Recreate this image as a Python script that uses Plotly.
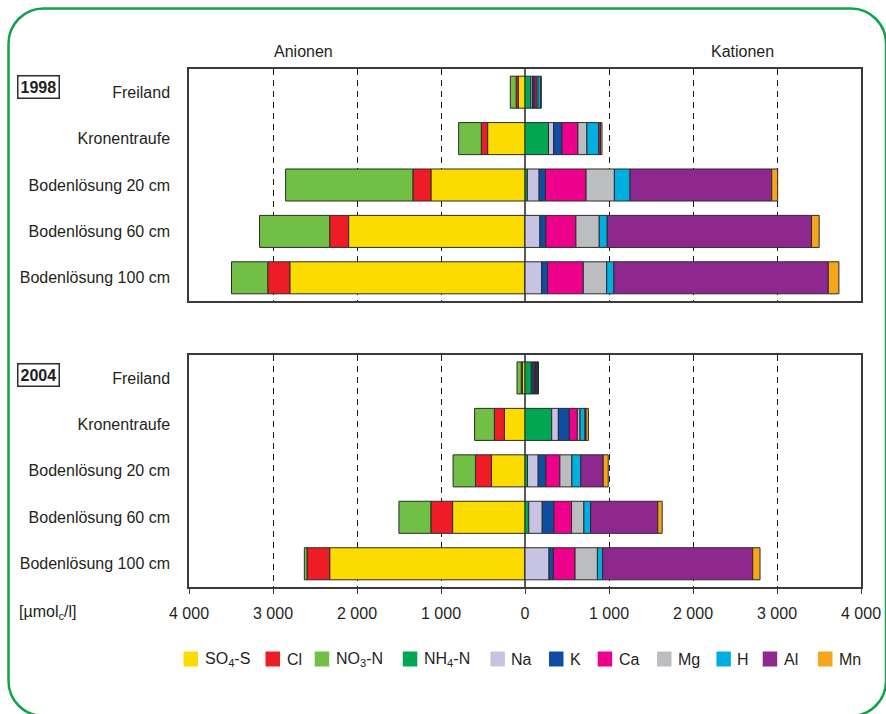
import plotly.graph_objects as go

# Sites (top to bottom)
sites = ["Freiland", "Kronentraufe", "Bodenlösung 20 cm",
         "Bodenlösung 60 cm", "Bodenlösung 100 cm"]

# Ion names, legend labels and colours (anions first, then cations)
ions = ["SO4-S", "Cl", "NO3-N", "NH4-N", "Na", "K", "Ca", "Mg", "H", "Al", "Mn"]
ion_labels = ["SO<sub>4</sub>-S", "Cl", "NO<sub>3</sub>-N", "NH<sub>4</sub>-N",
              "Na", "K", "Ca", "Mg", "H", "Al", "Mn"]
ion_colors = ["#FCDC00", "#EE1D25", "#72BF45", "#00A651", "#C6C4E2", "#0E4DA2",
              "#EC008C", "#BBBDC0", "#00AEDF", "#8E288F", "#F7A51C"]
anions = ["SO4-S", "Cl", "NO3-N"]

# Concentrations in µmol_c/l, 1998
conc_1998 = {
    "SO4-S": [80, 445, 1120, 2100, 2800],
    "Cl":    [25, 75, 215, 225, 262],
    "NO3-N": [70, 270, 1515, 835, 432],
    "NH4-N": [70, 280, 28, 0, 0],
    "Na":    [20, 60, 140, 178, 198],
    "K":     [20, 100, 75, 71, 71],
    "Ca":    [25, 190, 484, 357, 425],
    "Mg":    [20, 107, 337, 278, 278],
    "H":     [30, 140, 187, 95, 87],
    "Al":    [5, 22, 1686, 2432, 2551],
    "Mn":    [0, 18, 71, 91, 127],
}

# Concentrations in µmol_c/l, 2004
conc_2004 = {
    "SO4-S": [30, 245, 400, 862, 2325],
    "Cl":    [15, 120, 190, 258, 270],
    "NO3-N": [50, 235, 266, 381, 32],
    "NH4-N": [75, 318, 30, 45, 0],
    "Na":    [10, 79, 127, 160, 286],
    "K":     [25, 131, 91, 139, 52],
    "Ca":    [15, 95, 167, 210, 258],
    "Mg":    [10, 32, 143, 147, 266],
    "H":     [15, 60, 107, 79, 63],
    "Al":    [10, 12, 266, 801, 1786],
    "Mn":    [0, 28, 60, 52, 87],
}

years = ["1998", "2004"]
tick_vals = [-4000, -3000, -2000, -1000, 0, 1000, 2000, 3000, 4000]
tick_text = ["4 000", "3 000", "2 000", "1 000", "0", "1 000", "2 000", "3 000", "4 000"]

# ---- page geometry (pixels) ----
W, H = 886, 714
ML, MR, MT, MB = 189, 25, 69, 127
PW, PH = W - ML - MR, H - MT - MB


def px(x):
    return (x - ML) / PW


def py(y):
    return (H - MB - y) / PH


FONT = "Liberation Sans, Arial, sans-serif"
TXT = "#231F20"
EDGE = "#2B2B2B"

fig = go.Figure()

for k, (year, data) in enumerate(zip(years, [conc_1998, conc_2004])):
    ya = "y" if k == 0 else "y2"
    xa = "x" if k == 0 else "x2"
    for ion, color in zip(ions, ion_colors):
        sign = -1 if ion in anions else 1
        fig.add_trace(go.Bar(
            y=sites, x=[sign * v for v in data[ion]],
            orientation="h", name=ion, xaxis=xa, yaxis=ya,
            marker=dict(color=color, line=dict(color=EDGE, width=1)),
            width=0.69, showlegend=False,
            hovertemplate=ion + ": %{customdata}<extra></extra>",
            customdata=data[ion],
        ))

xcommon = dict(
    range=[-4000, 4000], tickvals=tick_vals, ticktext=tick_text,
    showgrid=True, gridcolor="#1A1A1A", gridwidth=1, griddash="6px,5px",
    zeroline=True, zerolinecolor="#5A5A5A", zerolinewidth=1.5,
    showline=True, linecolor="#3A3A3A", linewidth=1.5, mirror=True,
    fixedrange=True, automargin=False,
)
ycommon = dict(
    type="category", categoryorder="array", categoryarray=sites,
    range=[4.5, -0.5], showgrid=False, zeroline=False,
    showline=True, linecolor="#3A3A3A", linewidth=1.5, mirror=True,
    ticks="", ticklabelstandoff=14, automargin=False, fixedrange=True,
    tickfont=dict(family=FONT, size=16, color=TXT),
)

top_dom = [py(301), 1.0]
bot_dom = [0.0, py(354.7)]

fig.update_layout(
    width=W, height=H, autosize=False,
    margin=dict(l=ML, r=MR, t=MT, b=MB, pad=0, autoexpand=False),
    paper_bgcolor="white", plot_bgcolor="white",
    barmode="relative", bargap=0.31,
    font=dict(family=FONT, size=16, color=TXT),
    xaxis=dict(**xcommon, anchor="y", showticklabels=False, ticks=""),
    yaxis=dict(**ycommon, domain=top_dom, anchor="x"),
    xaxis2=dict(**xcommon, anchor="y2", showticklabels=True, ticks="outside",
                ticklen=5, tickcolor="#3A3A3A", tickwidth=1, ticklabelstandoff=6,
                tickfont=dict(family=FONT, size=16, color=TXT)),
    yaxis2=dict(**ycommon, domain=bot_dom, anchor="x2"),
    showlegend=False,
)

annotations = []
# Year boxes
for year, yc in zip(years, [87, 375]):
    annotations.append(dict(
        xref="paper", yref="paper", x=px(38.3), y=py(yc),
        text="<b>%s</b>" % year, showarrow=False,
        font=dict(family=FONT, size=16, color=TXT),
        bordercolor="#2B2B2B", borderwidth=1.5, borderpad=2, bgcolor="white",
        xanchor="center", yanchor="middle",
    ))
# Side headers
for label, xc in [("Anionen", 303), ("Kationen", 742)]:
    annotations.append(dict(
        xref="paper", yref="paper", x=px(xc), y=py(51), text=label,
        showarrow=False, font=dict(family=FONT, size=16, color=TXT),
        xanchor="center", yanchor="middle",
    ))
# Unit label
annotations.append(dict(
    xref="paper", yref="paper", x=px(17), y=py(612),
    text="[µmol<sub>c</sub>/l]", showarrow=False,
    font=dict(family=FONT, size=16, color=TXT),
    xanchor="left", yanchor="middle",
))

shapes = []
# Legend row
leg_x = [183.5, 265.5, 314.7, 402.8, 490.4, 549, 597.7, 657, 716.4, 762.7, 818]
leg_y = 659
for lx, lab, col in zip(leg_x, ion_labels, ion_colors):
    shapes.append(dict(type="rect", xref="paper", yref="paper",
                       x0=px(lx), x1=px(lx + 14.5), y0=py(leg_y - 7.5), y1=py(leg_y + 7.5),
                       fillcolor=col, line=dict(width=0)))
    annotations.append(dict(
        xref="paper", yref="paper", x=px(lx + 19), y=py(leg_y), text=lab,
        showarrow=False, font=dict(family=FONT, size=16, color=TXT),
        xanchor="left", yanchor="middle",
    ))

# Rounded green frame around the whole graphic
x0, y0, x1, y1, r = 8.5, 8.5, 886, 716, 35
k = 0.5523 * r
pts = [
    ("M", [(x0 + r, y0)]),
    ("L", [(x1 - r, y0)]),
    ("C", [(x1 - r + k, y0), (x1, y0 + r - k), (x1, y0 + r)]),
    ("L", [(x1, y1 - r)]),
    ("C", [(x1, y1 - r + k), (x1 - r + k, y1), (x1 - r, y1)]),
    ("L", [(x0 + r, y1)]),
    ("C", [(x0 + r - k, y1), (x0, y1 - r + k), (x0, y1 - r)]),
    ("L", [(x0, y0 + r)]),
    ("C", [(x0, y0 + r - k), (x0 + r - k, y0), (x0 + r, y0)]),
]
path = ""
for cmd, ps in pts:
    path += cmd + " ".join("%.5f,%.5f" % (px(a), py(b)) for a, b in ps) + " "
path += "Z"
shapes.append(dict(type="path", xref="paper", yref="paper", path=path,
                   line=dict(color="#0FA34A", width=2.5), fillcolor="rgba(0,0,0,0)",
                   layer="above"))

fig.update_layout(annotations=annotations, shapes=shapes)

fig.write_html("out.html", config={"responsive": False, "displayModeBar": False})
